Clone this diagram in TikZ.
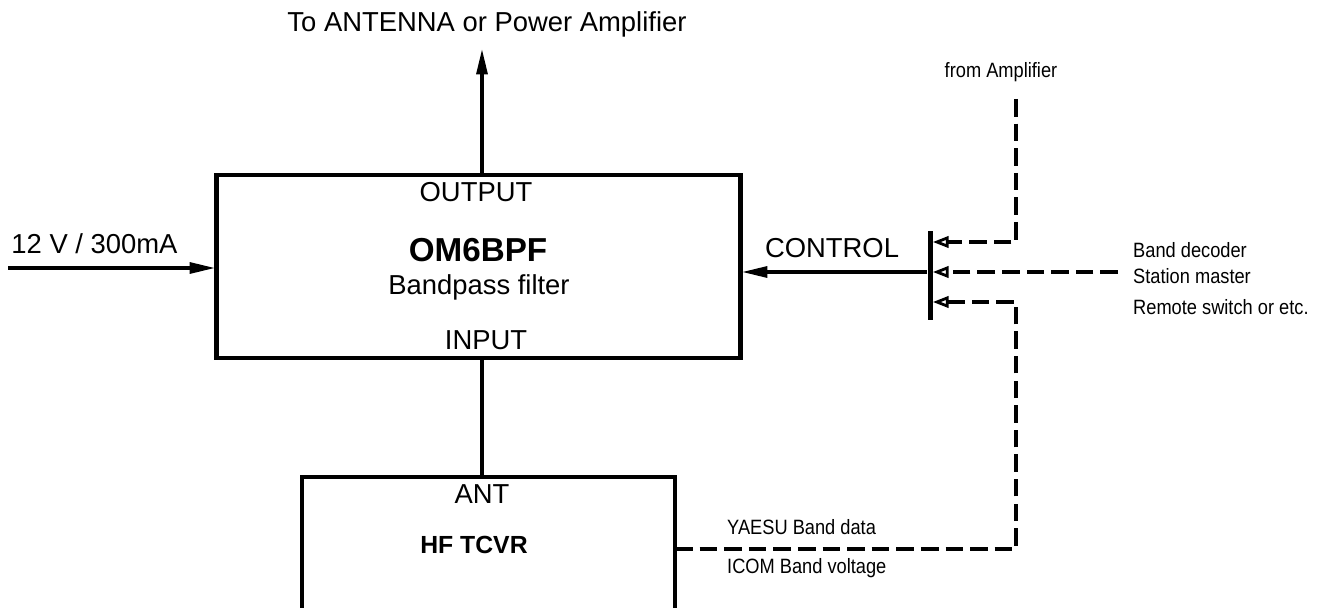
\documentclass[tikz,border=0pt]{standalone}
\usepackage{fontspec}
\setmainfont{Liberation Sans}
\newfontfamily\narrowfont{Liberation Sans}[FakeStretch=0.88]
\usepackage{tikz}
\usetikzlibrary{arrows.meta, positioning}

\tikzset{
  blk/.style={draw, line width=2.8pt, outer sep=0pt},
  wire/.style={line width=2.4pt, -{Triangle[length=15pt, width=6pt]}},
  ctl/.style={line width=1.8pt, dash pattern=on 10pt off 4pt,
    -{Triangle[open, length=9pt, width=6.5pt, line width=1.6pt]}},
  lbl/.style={font=\fontsize{15.6}{18}\selectfont},
  nlbl/.style={font=\narrowfont\fontsize{11.8}{14}\selectfont},
}

\begin{document}
\begin{tikzpicture}[x=0.02cm, y=-0.02cm]
  \useasboundingbox (0,0) rectangle (1326,608);
  \clip (0,0) rectangle (1326,608);

  % Filter block
  \node[blk, minimum width=10.5cm, minimum height=3.66cm] (bpf) at (478.5,266.5) {};
  \node[lbl] (outp) at (476,192) {OUTPUT};
  \node[font=\bfseries\fontsize{18.9}{22}\selectfont] (name) at (478,250) {OM6BPF};
  \node[lbl] (desc) at (479,287) {Bandpass filter};
  \node[lbl] (inp) at (486,340) {INPUT};

  % Transceiver block (runs past the lower edge)
  \node[blk, minimum width=7.46cm, minimum height=3.26cm] (trx) at (488.5,558.5) {};
  \node[lbl] (ant) at (482,494) {ANT};
  \node[font=\bfseries\fontsize{14.1}{17}\selectfont] (trxname) at (474,545) {HF TCVR};

  % Antenna output
  \coordinate (ant out) at (482,48);
  \node[lbl] (antlbl) at (487,24) {To ANTENNA or Power Amplifier};
  \draw[wire] (bpf.north -| ant out) -- (ant out);

  % Supply
  \coordinate (pwr) at (8,268);
  \node[lbl] (pwrlbl) at (94.5,244) {12 V / 300mA};
  \draw[wire] (pwr) -- (bpf.west |- pwr);

  % Input from transceiver
  \draw[line width=2.4pt] (bpf.south -| ant out) -- (trx.north -| ant out);

  % Control bar
  \node[fill, inner sep=0pt, minimum width=0.1cm, minimum height=1.8cm] (bar) at (930,275.5) {};
  \node[lbl] (ctllbl) at (832,248) {CONTROL};
  \draw[wire] (bar.west |- 0,272) -- (bpf.east |- 0,272);

  % Control sources
  \coordinate (amp) at (1016,99);
  \coordinate (dec) at (1118,272);
  \coordinate (trxout) at (trx.east |- 0,549);
  \node[nlbl] (amplbl) at (1001,72) {from Amplifier};
  \node[nlbl, anchor=west] (declbl) at (1127,250) {Band decoder};
  \node[nlbl, anchor=west] (stalbl) at (1127,276) {Station master};
  \node[nlbl, anchor=west] (remlbl) at (1127,307) {Remote switch or etc.};
  \node[nlbl, anchor=west] (yaesu) at (721,527) {YAESU Band data};
  \node[nlbl, anchor=west] (icom) at (721,568) {ICOM Band voltage};

  \draw[ctl] (amp) |- (bar.east |- 0,242);
  \draw[ctl] (dec) -- (bar.east |- dec);
  \draw[ctl] (trxout) -| (1016,302) -- (bar.east |- 0,302);
\end{tikzpicture}
\end{document}
